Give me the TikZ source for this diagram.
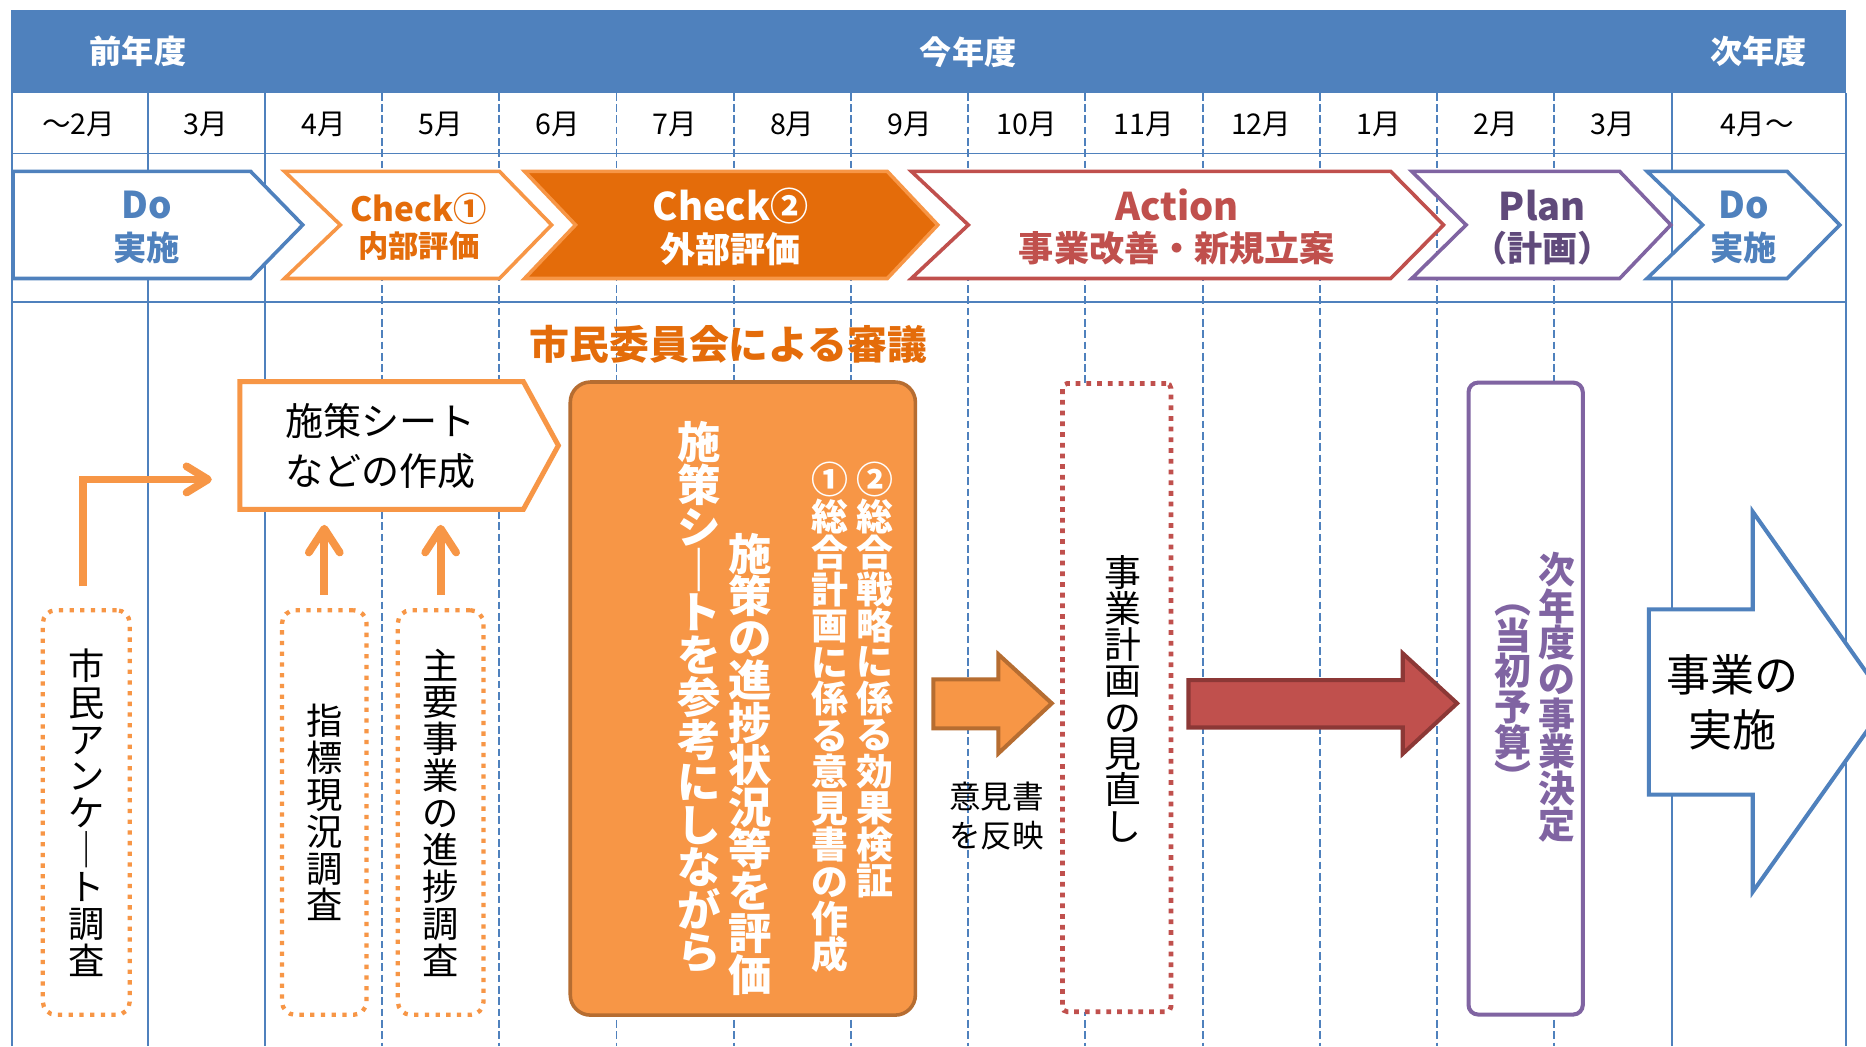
\documentclass[tikz,border=0pt]{standalone}
\usepackage{fontspec}
\setmainfont{Noto Sans CJK JP}
\usetikzlibrary{arrows.meta,calc}
\definecolor{cblue}{HTML}{4F81BD}
\definecolor{corange}{HTML}{F79646}
\definecolor{cordark}{HTML}{E46C0A}
\definecolor{cred}{HTML}{C0504D}
\definecolor{credd}{HTML}{8C3836}
\definecolor{cpurple}{HTML}{8064A2}
\definecolor{cpurpled}{HTML}{604A7B}
\definecolor{cbrown}{HTML}{B66D31}
\newcommand\fsz[1]{\fontsize{#1}{#1}\selectfont}
\newcommand\vfs[2]{\fontsize{#1}{#2}\selectfont\lineskiplimit=-100pt\lineskip=0pt\relax}
\tikzset{
  gsolid/.style={draw=cblue,line width=1.6pt},
  gdash/.style={draw=cblue,line width=1.6pt,dash pattern=on 6.5pt off 3pt},
  chev/.style={line width=3pt,line join=miter},
  lab/.style={inner sep=0pt,outer sep=0pt},
  hdr/.style={lab,text=white,font=\fsz{27}\bfseries},
  mon/.style={lab,font=\fsz{24}},
  vcol/.style={lab,align=center},
  dotbox/.style={draw=corange,line width=3.6pt,dash pattern=on 3.6pt off 5.4pt,
     rounded corners=11pt,fill=white,inner sep=0pt,minimum width=73pt,minimum height=340pt},
  rdotbox/.style={draw=cred,line width=4pt,dash pattern=on 4pt off 5pt,
     rounded corners=4pt,fill=white,inner sep=0pt,minimum width=91pt,minimum height=528pt},
  pbox/.style={draw=cpurple,line width=3.4pt,rounded corners=8pt,fill=white,
     inner sep=0pt,minimum width=96pt,minimum height=531pt},
  obox/.style={draw=cbrown,line width=3pt,rounded corners=17pt,fill=corange,
     inner sep=0pt,minimum width=290pt,minimum height=532pt},
  linearrow/.style={draw=corange,line width=6.5pt,-{Straight Barb[length=18pt,width=22pt,round]}},
  uparrow/.style={draw=corange,line width=6.5pt,-{Straight Barb[length=20pt,width=26pt,round]}},
  blockarrow/.style={line width=3.4pt,line join=miter},
}
\begin{document}
\begin{tikzpicture}[x=1pt,y=-1pt]
\useasboundingbox (0,0) rectangle (1568,879);
\clip (0,0) rectangle (1568,879);
\fill[white] (0,0) rectangle (1568,879);

% header band
\fill[cblue] (9.5,8.5) rectangle (1551,78);
\node[hdr] (hprev) at (116,43.5) {前年度};
\node[hdr] (hcur) at (813.5,43.5) {今年度};
\node[hdr] (hnext) at (1478,43.5) {次年度};

% grid
\foreach \x in {10,124,222.5,1405,1551} \draw[gsolid] (\x,78) -- (\x,879);
\foreach \x in {321,419.5,518,616.5,715,813.5,912,1010.5,1109,1207.5,1306} \draw[gdash] (\x,78) -- (\x,879);
\draw[gsolid] (10,129) -- (1551,129);
\draw[gsolid] (10,253.5) -- (1551,253.5);

% months
\node[mon] (m0) at (66,104.5) {～2月};
\node[mon] (m1) at (173,104.5) {3月};
\node[mon] (m2) at (271.75,104.5) {4月};
\node[mon] (m3) at (370.25,104.5) {5月};
\node[mon] (m4) at (468.75,104.5) {6月};
\node[mon] (m5) at (567.25,104.5) {7月};
\node[mon] (m6) at (665.75,104.5) {8月};
\node[mon] (m7) at (764.25,104.5) {9月};
\node[mon] (m8) at (862.75,104.5) {10月};
\node[mon] (m9) at (961.25,104.5) {11月};
\node[mon] (m10) at (1059.75,104.5) {12月};
\node[mon] (m11) at (1158.25,104.5) {1月};
\node[mon] (m12) at (1256.75,104.5) {2月};
\node[mon] (m13) at (1355.5,104.5) {3月};
\node[mon] (m14) at (1476.5,104.5) {4月～};

% chevrons
\draw[chev,draw=cblue,fill=white] (11,144) -- (210.6,144) -- (254.4,189) -- (210.6,234) -- (11,234) -- cycle;
\draw[chev,draw=corange,fill=white] (239,144) -- (419.7,144) -- (463.5,189) -- (419.7,234) -- (239,234) -- (286,189) -- cycle;
\draw[chev,draw=corange,fill=cordark] (440.8,144) -- (745.6,144) -- (788,189) -- (745.6,234) -- (440.8,234) -- (483.6,189) -- cycle;
\draw[chev,draw=cred,fill=white] (765.8,144) -- (1168.6,144) -- (1213,189) -- (1168.6,234) -- (765.8,234) -- (813.7,189) -- cycle;
\draw[chev,draw=cpurple,fill=white] (1186.3,144) -- (1361,144) -- (1404,189) -- (1361,234) -- (1186.3,234) -- (1232,189) -- cycle;
\draw[chev,draw=cblue,fill=white] (1384,144) -- (1501.7,144) -- (1546,189) -- (1501.7,234) -- (1384,234) -- (1430.7,189) -- cycle;

\node[lab,text=cblue,font=\fsz{31}\bfseries] (do1a) at (123,172) {Do};
\node[lab,text=cblue,font=\fsz{28}\bfseries] (do1b) at (123,208.5) {実施};
\node[lab,text=cordark,font=\fsz{28}\bfseries] (ck1a) at (352,175.5) {Check①};
\node[lab,text=cordark,font=\fsz{25.5}\bfseries] (ck1b) at (352,207) {内部評価};
\node[lab,text=white,font=\fsz{32}\bfseries] (ck2a) at (614,173) {Check②};
\node[lab,text=white,font=\fsz{29.5}\bfseries] (ck2b) at (614,209) {外部評価};
\node[lab,text=cred,font=\fsz{32}\bfseries] (acta) at (989,172.5) {Action};
\node[lab,text=cred,font=\fsz{29.5}\bfseries] (actb) at (989,208.5) {事業改善・新規立案};
\node[lab,text=cpurpled,font=\fsz{32}\bfseries] (plna) at (1296,172.5) {Plan};
\node[lab,text=cpurpled,font=\fsz{29.5}\bfseries] (plnb) at (1296,208.5) {（計画）};
\node[lab,text=cblue,font=\fsz{31}\bfseries] (do2a) at (1465,172) {Do};
\node[lab,text=cblue,font=\fsz{28}\bfseries] (do2b) at (1465,208.5) {実施};

% title
\node[lab,text=cordark,font=\fsz{33.5}\bfseries] (title) at (612,289.5) {市民委員会による審議};

% sheet box
\node[lab,minimum width=238.3pt,minimum height=107.3pt] (sheet) at (320.65,374.35) {};
\draw[draw=corange,line width=4.2pt,fill=white,line join=miter]
  (sheet.north west) -- (sheet.north east) -- ($(sheet.east)+(29.4,0)$) -- (sheet.south east) -- (sheet.south west) -- cycle;
\node[lab,align=left,font=\fontsize{32}{42}\selectfont] (sheett) at (319.5,375) {施策シート\\などの作成};

% dotted boxes
\node[dotbox,vcol,font=\vfs{30.5}{31}] (enq) at (72.5,682.75) {市\\民\\ア\\ン\\ケ\\｜\\ト\\調\\査};
\node[dotbox,vcol,font=\vfs{30.5}{31},minimum width=71pt] (shihyo) at (272.5,682.75) {指\\標\\現\\況\\調\\査};
\node[dotbox,vcol,font=\vfs{30.5}{31},minimum width=72pt] (shuyo) at (370.3,682.75) {主\\要\\事\\業\\の\\進\\捗\\調\\査};

% arrows into sheet
\draw[linearrow] ($(enq.north)+(-2.5,-20)$) |- ($(sheet.west)+(-23.5,28.5)$);
\draw[uparrow,shorten <=13pt,shorten >=13pt] (shihyo.north) -- (shihyo.north |- sheet.south);
\draw[uparrow,shorten <=13pt,shorten >=13pt] (shuyo.north) -- (shuyo.north |- sheet.south);

% big orange box
\node[obox] (rev) at (624.2,587) {};
\node[vcol,text=white,font=\vfs{36.5}{35.7}\bfseries] (revA) at (587.5,586) {施\\策\\シ\\｜\\ト\\を\\参\\考\\に\\し\\な\\が\\ら};
\node[vcol,text=white,font=\vfs{36.5}{35.4}\bfseries] (revB) at (630.8,642.5) {施\\策\\の\\進\\捗\\状\\況\\等\\を\\評\\価};
\node[vcol,text=white,font=\vfs{31}{30.7}\bfseries] (revC) at (697.5,602.8) {①\\総\\合\\計\\画\\に\\係\\る\\意\\見\\書\\の\\作\\成};
\node[vcol,text=white,font=\vfs{31}{30.6}\bfseries] (revD) at (735.3,571.5) {②\\総\\合\\戦\\略\\に\\係\\る\\効\\果\\検\\証};

% orange block arrow
\draw[blockarrow,draw=cbrown,fill=corange] (784.3,570.9) -- (839,570.9) -- (839,549.9) -- (883.8,591) -- (839,633) -- (839,612) -- (784.3,612) -- cycle;
\node[lab,align=left,font=\fontsize{26.5}{33}\selectfont] (refl) at (837.5,686) {意見書\\を反映};

% red dotted box
\node[rdotbox] (review) at (938.4,586.2) {};
\node[vcol,font=\vfs{31}{30.5}] (reviewt) at (944,587) {事\\業\\計\\画\\の\\見\\直\\し};

% red block arrow
\draw[blockarrow,draw=credd,fill=cred] (998.7,571.5) -- (1178.7,571.5) -- (1178.7,549) -- (1224.4,591) -- (1178.7,633.4) -- (1178.7,611.3) -- (998.7,611.3) -- cycle;

% purple box
\node[pbox] (dec) at (1282,587) {};
\node[vcol,text=cpurple,font=\vfs{31}{30.6}\bfseries] (dec1) at (1308,586) {次\\年\\度\\の\\事\\業\\決\\定};
\node[vcol,text=cpurple,font=\vfs{31}{30}\bfseries] (dec2) at (1271.7,586.8) {︵\\当\\初\\予\\算\\︶};

% big blue arrow
\draw[blockarrow,draw=cblue,fill=white] (1385.5,512) -- (1472.8,512) -- (1472.8,430) -- (1586,590) -- (1472.8,749.4) -- (1472.8,667.7) -- (1385.5,667.7) -- cycle;
\node[lab,align=center,font=\fontsize{37}{46.5}\selectfont] (impl) at (1456,590) {事業の\\実施};
\end{tikzpicture}
\end{document}
